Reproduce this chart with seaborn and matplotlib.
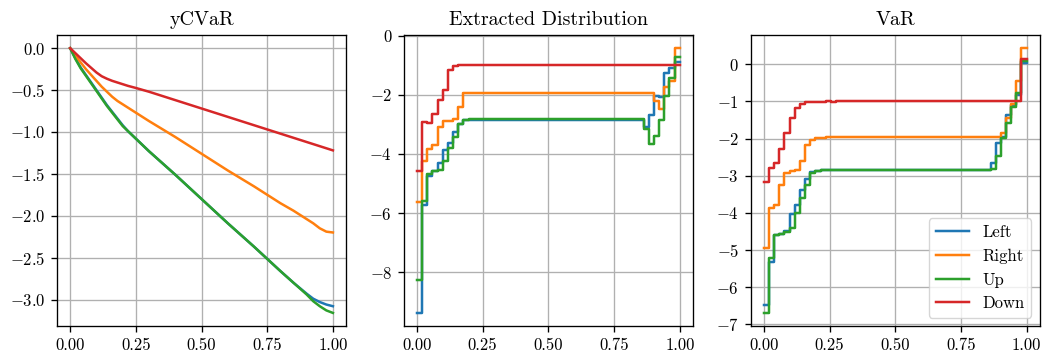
import numpy as np
import matplotlib
matplotlib.use("Agg")
import matplotlib.pyplot as plt
import seaborn as sns

# ---------------- data ----------------
series_names = ["Left", "Right", "Up", "Down"]
series_colors = ["#1f77b4", "#ff7f0e", "#2ca02c", "#d62728"]

# yCVaR panel (smooth curves)
cvar_x = [0.0, 0.02, 0.04, 0.06, 0.08, 0.10, 0.12, 0.14, 0.16, 0.18, 0.20, 0.22, 0.25,
          0.30, 0.40, 0.50, 0.60, 0.70, 0.80, 0.85, 0.90, 0.925, 0.95, 0.975, 1.0]
cvar_left = [0.0, -0.12, -0.23, -0.32, -0.41, -0.50, -0.59, -0.68, -0.76, -0.84, -0.92, -0.99, -1.08,
             -1.23, -1.51, -1.80, -2.09, -2.37, -2.66, -2.80, -2.93, -2.99, -3.03, -3.06, -3.08]
cvar_right = [0.0, -0.09, -0.17, -0.25, -0.32, -0.39, -0.46, -0.52, -0.58, -0.63, -0.67, -0.71, -0.77,
              -0.87, -1.06, -1.26, -1.46, -1.65, -1.85, -1.94, -2.04, -2.09, -2.15, -2.19, -2.20]
cvar_up = [0.0, -0.13, -0.24, -0.33, -0.42, -0.51, -0.60, -0.69, -0.77, -0.85, -0.93, -0.99, -1.08,
           -1.23, -1.51, -1.80, -2.09, -2.37, -2.66, -2.80, -2.94, -3.02, -3.08, -3.13, -3.16]
cvar_down = [0.0, -0.06, -0.12, -0.18, -0.235, -0.29, -0.335, -0.365, -0.39, -0.41, -0.43, -0.45, -0.475,
             -0.52, -0.62, -0.72, -0.82, -0.92, -1.02, -1.07, -1.12, -1.145, -1.17, -1.195, -1.22]

# Extracted Distribution panel (51 quantile steps)
ext_left = [-9.38, -5.72, -4.73, -4.58, -4.30, -3.85, -3.63, -3.26, -2.98, -2.85,
            -2.84, -2.84, -2.84, -2.84, -2.84, -2.84, -2.84, -2.84, -2.84, -2.84,
            -2.84, -2.84, -2.84, -2.84, -2.84, -2.84, -2.84, -2.84, -2.84, -2.84,
            -2.84, -2.84, -2.84, -2.84, -2.84, -2.84, -2.84, -2.84, -2.84, -2.84,
            -2.84, -2.84, -2.84, -2.84, -3.09, -2.69, -2.05, -2.06, -1.27, -1.10, -0.88]
ext_right = [-5.63, -4.24, -3.82, -3.70, -3.09, -2.88, -2.90, -2.83, -2.41, -1.94,
             -1.94, -1.94, -1.94, -1.94, -1.94, -1.94, -1.94, -1.94, -1.94, -1.94,
             -1.94, -1.94, -1.94, -1.94, -1.94, -1.94, -1.94, -1.94, -1.94, -1.94,
             -1.94, -1.94, -1.94, -1.94, -1.94, -1.94, -1.94, -1.94, -1.94, -1.94,
             -1.94, -1.94, -1.94, -1.94, -1.94, -1.94, -2.20, -2.47, -1.73, -1.54, -0.42]
ext_up = [-8.25, -5.60, -4.69, -4.58, -4.55, -4.23, -3.79, -3.42, -3.00, -2.84,
          -2.83, -2.83, -2.83, -2.83, -2.83, -2.83, -2.83, -2.83, -2.83, -2.83,
          -2.83, -2.83, -2.83, -2.83, -2.83, -2.83, -2.83, -2.83, -2.83, -2.83,
          -2.83, -2.83, -2.83, -2.83, -2.83, -2.83, -2.83, -2.83, -2.83, -2.83,
          -2.83, -2.83, -2.83, -2.83, -3.17, -3.65, -3.40, -2.84, -2.04, -1.43, -0.73]
ext_down = [-4.57, -2.92, -2.94, -2.66, -2.16, -1.83, -1.16, -1.04, -0.99, -0.98,
            -0.98, -0.98, -0.98, -0.98, -0.98, -0.98, -0.98, -0.98, -0.98, -0.98,
            -0.98, -0.98, -0.98, -0.98, -0.98, -0.98, -0.98, -0.98, -0.98, -0.98,
            -0.98, -0.98, -0.98, -0.98, -0.98, -0.98, -0.98, -0.98, -0.98, -0.98,
            -0.99, -0.99, -0.99, -0.99, -0.99, -0.99, -0.99, -0.99, -0.99, -0.99, -0.99]

# VaR panel (51 quantile steps)
var_left = [-6.48, -5.31, -4.60, -4.57, -4.50, -4.03, -3.78, -3.38, -3.10, -2.90,
            -2.87, -2.86, -2.86, -2.86, -2.86, -2.85, -2.85, -2.85, -2.85, -2.85,
            -2.85, -2.85, -2.85, -2.85, -2.85, -2.85, -2.85, -2.85, -2.85, -2.85,
            -2.85, -2.84, -2.84, -2.84, -2.84, -2.84, -2.84, -2.84, -2.84, -2.84,
            -2.84, -2.84, -2.84, -2.84, -2.65, -2.12, -1.95, -1.36, -1.10, -0.84, 0.02]
var_right = [-4.94, -3.88, -3.78, -3.26, -2.92, -2.87, -2.86, -2.61, -2.17, -2.03,
             -1.99, -1.98, -1.97, -1.97, -1.97, -1.97, -1.96, -1.96, -1.96, -1.96,
             -1.96, -1.96, -1.96, -1.96, -1.96, -1.96, -1.95, -1.95, -1.95, -1.95,
             -1.95, -1.95, -1.95, -1.95, -1.95, -1.95, -1.95, -1.95, -1.95, -1.95,
             -1.95, -1.95, -1.95, -1.95, -1.95, -1.95, -1.86, -1.44, -1.08, -0.46, 0.43]
var_up = [-6.69, -5.20, -4.60, -4.57, -4.52, -4.40, -3.99, -3.60, -3.26, -2.92,
          -2.87, -2.86, -2.86, -2.86, -2.86, -2.85, -2.85, -2.85, -2.85, -2.85,
          -2.85, -2.85, -2.85, -2.85, -2.85, -2.85, -2.85, -2.85, -2.85, -2.85,
          -2.85, -2.84, -2.84, -2.84, -2.84, -2.84, -2.84, -2.84, -2.84, -2.84,
          -2.84, -2.84, -2.84, -2.84, -2.81, -2.47, -1.99, -1.58, -1.16, -0.78, 0.09]
var_down = [-3.16, -2.79, -2.66, -2.28, -1.85, -1.44, -1.19, -1.07, -1.03, -1.02,
            -1.01, -1.01, -1.00, -1.01, -1.00, -1.00, -0.99, -1.00, -1.00, -1.00,
            -1.00, -1.00, -0.99, -1.00, -1.00, -1.00, -1.00, -1.00, -1.00, -1.00,
            -1.00, -1.00, -1.00, -1.00, -1.00, -1.00, -1.00, -1.00, -1.00, -1.00,
            -1.00, -1.00, -1.00, -1.00, -1.00, -1.00, -1.00, -1.00, -1.00, -1.00, 0.15]

titles = ["yCVaR", "Extracted Distribution", "VaR"]
xticks = [0.0, 0.25, 0.5, 0.75, 1.0]
xtick_labels = ["0.00", "0.25", "0.50", "0.75", "1.00"]

# ---------------- style ----------------
k = 1.2  # overall scale of the reference rendering
plt.rcParams.update({
    "font.family": "serif",
    "font.serif": ["cmr10"],
    "mathtext.fontset": "cm",
    "axes.formatter.use_mathtext": True,
    "axes.unicode_minus": True,
    "font.size": 10 * k,
    "axes.linewidth": 0.8 * k,
    "xtick.major.size": 3.5 * k,
    "ytick.major.size": 3.5 * k,
    "xtick.major.width": 0.8 * k,
    "ytick.major.width": 0.8 * k,
    "xtick.major.pad": 3.5 * k,
    "ytick.major.pad": 3.5 * k,
    "axes.titlepad": 6.0 * k,
})

fig, axes = plt.subplots(1, 3, figsize=(10.46, 3.6), dpi=100)
fig.subplots_adjust(left=0.0545, right=0.994, top=0.903, bottom=0.094, wspace=0.2)

lw = 1.5 * k

# Panel 1: smooth yCVaR curves
cvar_series = [cvar_left, cvar_right, cvar_up, cvar_down]
for name, col, vals in zip(series_names, series_colors, cvar_series):
    sns.lineplot(x=cvar_x, y=vals, ax=axes[0], color=col, linewidth=lw,
                 legend=False, errorbar=None, sort=False, label=name)

# Panels 2 & 3: step functions over quantile levels
n_steps = len(ext_left)
edges = np.linspace(0.0, 1.0, n_steps + 1)
for ax, group in [(axes[1], [ext_left, ext_right, ext_up, ext_down]),
                  (axes[2], [var_left, var_right, var_up, var_down])]:
    for name, col, vals in zip(series_names, series_colors, group):
        yv = list(vals) + [vals[-1]]
        sns.lineplot(x=edges, y=yv, ax=ax, color=col, linewidth=lw,
                     drawstyle="steps-post", legend=False, errorbar=None,
                     sort=False, label=name)

for ax, title in zip(axes, titles):
    ax.set_title(title, fontsize=12 * k)
    ax.set_xticks(xticks)
    ax.set_xticklabels(xtick_labels)
    ax.grid(True, color="#b0b0b0", linewidth=0.8 * k)
    ax.set_axisbelow(True)
    ax.set_xlabel("")
    ax.set_ylabel("")
    ax.tick_params(labelsize=10 * k)
    for s in ax.spines.values():
        s.set_color("black")

axes[0].set_yticks([0.0, -0.5, -1.0, -1.5, -2.0, -2.5, -3.0])
axes[1].set_yticks([0, -2, -4, -6, -8])
axes[2].set_yticks([0, -1, -2, -3, -4, -5, -6, -7])

axes[2].legend(loc="lower right", fontsize=10 * k)

fig.savefig("out.png", dpi=100)
